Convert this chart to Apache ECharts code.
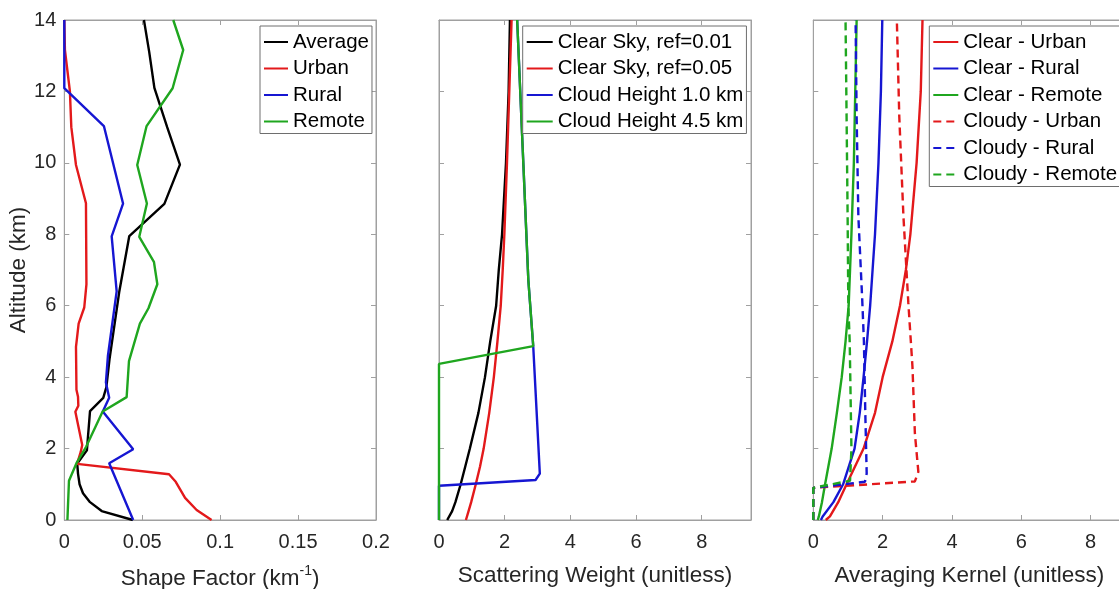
<!DOCTYPE html>
<html><head><meta charset="utf-8">
<script src="https://cdn.jsdelivr.net/npm/echarts@6/dist/echarts.min.js"></script>
<style>html,body{margin:0;padding:0;background:#fff}#c{width:1119px;height:589px}</style>
</head><body><div id="c"></div>
<script>
// ---- Panel 1: Shape factor (km^-1) vs altitude (km)
const sfAvgAlt = [0, 0.25, 0.5, 0.75, 1.0, 1.3, 1.58, 1.95, 3.05, 3.42, 3.72, 4.5, 6.4, 7.95, 8.85, 9.95, 11.0, 12.1, 13.1, 14];
const sfAvgVal = [0.044, 0.024, 0.0165, 0.012, 0.0098, 0.0088, 0.0083, 0.0145, 0.0165, 0.025, 0.027, 0.029, 0.0353, 0.0417, 0.0642, 0.0742, 0.066, 0.0578, 0.0545, 0.0511];
const sfUrbAlt = [0, 0.28, 0.62, 1.07, 1.28, 1.57, 1.9, 2.1, 3.03, 3.2, 3.45, 3.65, 4.85, 5.5, 5.95, 6.6, 8.87, 9.94, 11.0, 12.0, 13.16, 14];
const sfUrbVal = [0.0945, 0.0849, 0.0775, 0.0715, 0.0672, 0.0082, 0.0105, 0.0115, 0.0071, 0.009, 0.0088, 0.0078, 0.0075, 0.0092, 0.0128, 0.0142, 0.0139, 0.0075, 0.0045, 0.0036, 0.0004, 0];
const sfRurAlt = [0, 1.59, 1.98, 3.04, 3.42, 3.85, 4.6, 6.4, 7.94, 8.86, 11.03, 12.09, 14];
const sfRurVal = [0.0442, 0.0288, 0.0442, 0.0247, 0.0288, 0.0267, 0.028, 0.0336, 0.0304, 0.0377, 0.0254, 0, 0];
const sfRemAlt = [0, 1.1, 1.59, 2.05, 3.04, 3.44, 4.45, 5.5, 5.93, 6.6, 7.23, 7.93, 8.86, 9.94, 11.03, 12.09, 13.16, 14];
const sfRemVal = [0.002, 0.003, 0.0078, 0.014, 0.0246, 0.04, 0.0415, 0.0485, 0.054, 0.0597, 0.0575, 0.0481, 0.053, 0.0468, 0.0528, 0.0695, 0.0763, 0.0699];

// ---- Panel 2: Scattering weight
const swAlt = [0, 0.25, 0.5, 1, 1.5, 2, 3, 4, 5, 6, 7, 8, 10, 12, 14];
const swClr01 = [0.25, 0.4, 0.5, 0.66, 0.8, 0.94, 1.2, 1.4, 1.56, 1.74, 1.82, 1.92, 2.04, 2.12, 2.16];
const swClr05 = [0.82, 0.9, 0.98, 1.12, 1.25, 1.36, 1.53, 1.67, 1.78, 1.88, 1.94, 1.99, 2.07, 2.14, 2.21];
const swC10Alt = [0, 0.96, 1.12, 1.3, 4.85, 6.72, 9.94, 14];
const swC10Val = [0, 0, 2.94, 3.07, 2.87, 2.72, 2.57, 2.38];
const swC45Alt = [0, 4.37, 4.87, 6.72, 9.94, 14];
const swC45Val = [0, 0, 2.87, 2.72, 2.57, 2.38];

// ---- Panel 3: Averaging kernel
const akAlt = [0, 0.1, 0.5, 1, 2, 3, 4, 5, 6, 7, 8, 10, 12, 14];
const akClrUrb = [0.36, 0.48, 0.72, 0.96, 1.45, 1.78, 2.0, 2.28, 2.5, 2.67, 2.8, 2.98, 3.1, 3.15];
const akClrRur = [0.22, 0.27, 0.58, 0.86, 1.19, 1.34, 1.45, 1.55, 1.64, 1.71, 1.78, 1.88, 1.95, 1.99];
const akClrRem = [0.13, 0.16, 0.25, 0.34, 0.53, 0.68, 0.82, 0.93, 1.02, 1.06, 1.1, 1.17, 1.21, 1.25];
const akCldUrbAlt = [0, 0.9, 1.08, 1.35, 2.43, 4.3, 6.1, 8.5, 11.3, 14];
const akCldUrbVal = [0, 0, 2.93, 3.03, 2.93, 2.86, 2.74, 2.6, 2.48, 2.41];
const akCldRurAlt = [0, 0.9, 1.07, 1.3, 3.0, 5.0, 6.2, 8.5, 11.3, 14];
const akCldRurVal = [0, 0, 1.49, 1.54, 1.5, 1.46, 1.41, 1.3, 1.25, 1.22];
const akCldRemAlt = [0, 0.9, 1.1, 2.0, 5.0, 6.0, 8.5, 11.3, 14];
const akCldRemVal = [0, 0, 1.06, 1.1, 1.05, 1.01, 0.99, 0.96, 0.93];

const altTicks = [0, 14, 2];

const FONT = "'Liberation Sans', Arial, Helvetica, sans-serif";
const AX = '#a0a0a0';
const TXT = '#262626';
const RED = '#e3191b', BLUE = '#1616d2', GREEN = '#1fa61f', BLACK = '#000000';
const LW = 2.4;

function pairs(vals, alts) { return vals.map((v, i) => [v, alts[i]]); }

const chart = echarts.init(document.getElementById('c'), null, {renderer: 'canvas'});

const grids = [
  {left: 64.3, top: 20, width: 311.7, height: 500},
  {left: 439, top: 20, width: 312, height: 500},
  {left: 813.3, top: 20, width: 312, height: 500}
].map(g => Object.assign({show: true, borderColor: AX, borderWidth: 1, backgroundColor: 'transparent',
  containLabel: false, outerBoundsMode: 'none'}, g));

const tick = () => ({show: true, inside: true, length: 5, lineStyle: {color: AX, width: 1}});
const line = () => ({show: true, onZero: false, lineStyle: {color: AX, width: 1}});
const lbl = () => ({color: TXT, fontSize: 20, fontFamily: FONT});

function xBottom(gi, max, interval, name, fmt) {
  return {type: 'value', gridIndex: gi, position: 'bottom', min: 0, max: max, interval: interval,
    axisLine: line(), axisTick: tick(), splitLine: {show: false},
    axisLabel: Object.assign({margin: 12, showMaxLabel: gi === 0, formatter: fmt}, lbl()),
    name: name, nameLocation: 'middle', nameGap: 44,
    nameTextStyle: {color: TXT, fontSize: 22.5, fontFamily: FONT,
      rich: {n: {fontSize: 22.5, fontFamily: FONT, color: TXT, lineHeight: 26, verticalAlign: 'bottom'},
             s: {fontSize: 14, fontFamily: FONT, color: TXT, lineHeight: 14, verticalAlign: 'top'}}}};
}
function xTop(gi, max, interval) {
  return {type: 'value', gridIndex: gi, position: 'top', min: 0, max: max, interval: interval,
    axisLine: line(), axisTick: tick(), axisLabel: {show: false}, splitLine: {show: false}};
}
function yLeft(gi, labels) {
  return {type: 'value', gridIndex: gi, position: 'left', min: altTicks[0], max: altTicks[1], interval: altTicks[2],
    axisLine: line(), axisTick: tick(), splitLine: {show: false},
    axisLabel: Object.assign({show: labels, margin: 8}, lbl()),
    name: labels ? 'Altitude (km)' : '', nameLocation: 'middle', nameGap: 27,
    nameTextStyle: {color: TXT, fontSize: 22.5, fontFamily: FONT}};
}
function yRight(gi) {
  return {type: 'value', gridIndex: gi, position: 'right', min: altTicks[0], max: altTicks[1], interval: altTicks[2],
    axisLine: line(), axisTick: tick(), axisLabel: {show: false}, splitLine: {show: false}};
}

const fmt1 = v => String(+v.toFixed(2));
const fmtN = v => String(v);

const xAxes = [
  xBottom(0, 0.2, 0.05, '{n|Shape Factor (km}{s|-1}{n|)}', fmt1), xTop(0, 0.2, 0.05),
  xBottom(1, 9.5, 2, 'Scattering Weight (unitless)', fmtN), xTop(1, 9.5, 2),
  xBottom(2, 9, 2, 'Averaging Kernel (unitless)', fmtN), xTop(2, 9, 2)
];
const yAxes = [yLeft(0, true), yRight(0), yLeft(1, false), yRight(1), yLeft(2, false), yRight(2)];

function s(name, gi, data, color, dashed) {
  return {type: 'line', name: name, xAxisIndex: gi * 2, yAxisIndex: gi * 2, data: data,
    symbol: 'none', showSymbol: false, animation: false, silent: true,
    lineStyle: {color: color, width: LW, type: dashed ? [8, 5] : 'solid'}, itemStyle: {color: color}};
}

const series = [
  s('Average', 0, pairs(sfAvgVal, sfAvgAlt), BLACK),
  s('Urban', 0, pairs(sfUrbVal, sfUrbAlt), RED),
  s('Rural', 0, pairs(sfRurVal, sfRurAlt), BLUE),
  s('Remote', 0, pairs(sfRemVal, sfRemAlt), GREEN),
  s('Clear Sky, ref=0.01', 1, pairs(swClr01, swAlt), BLACK),
  s('Clear Sky, ref=0.05', 1, pairs(swClr05, swAlt), RED),
  s('Cloud Height 1.0 km', 1, pairs(swC10Val, swC10Alt), BLUE),
  s('Cloud Height 4.5 km', 1, pairs(swC45Val, swC45Alt), GREEN),
  s('Clear - Urban', 2, pairs(akClrUrb, akAlt), RED),
  s('Clear - Rural', 2, pairs(akClrRur, akAlt), BLUE),
  s('Clear - Remote', 2, pairs(akClrRem, akAlt), GREEN),
  s('Cloudy - Urban', 2, pairs(akCldUrbVal, akCldUrbAlt), RED, true),
  s('Cloudy - Rural', 2, pairs(akCldRurVal, akCldRurAlt), BLUE, true),
  s('Cloudy - Remote', 2, pairs(akCldRemVal, akCldRemAlt), GREEN, true)
];

function legend(left, top, names, w) {
  return {left: left, top: top, orient: 'vertical', data: names, itemWidth: w, itemHeight: 14, itemGap: 4.5,
    padding: [5, 3, 1, 3], borderColor: '#6e6e6e', borderWidth: 1, backgroundColor: '#fff',
    itemStyle: {opacity: 0, borderWidth: 0},
    selectedMode: false, textStyle: {color: '#000', fontSize: 20.5, fontFamily: FONT, lineHeight: 22}};
}

chart.setOption({
  animation: false,
  grid: grids,
  xAxis: xAxes,
  yAxis: yAxes,
  legend: [
    legend(260, 26, ['Average', 'Urban', 'Rural', 'Remote'], 24),
    legend(522.7, 26, ['Clear Sky, ref=0.01', 'Clear Sky, ref=0.05', 'Cloud Height 1.0 km', 'Cloud Height 4.5 km'], 26),
    legend(929.3, 26, ['Clear - Urban', 'Clear - Rural', 'Clear - Remote', 'Cloudy - Urban', 'Cloudy - Rural', 'Cloudy - Remote'], 25)
  ],
  series: series
});
</script></body></html>
